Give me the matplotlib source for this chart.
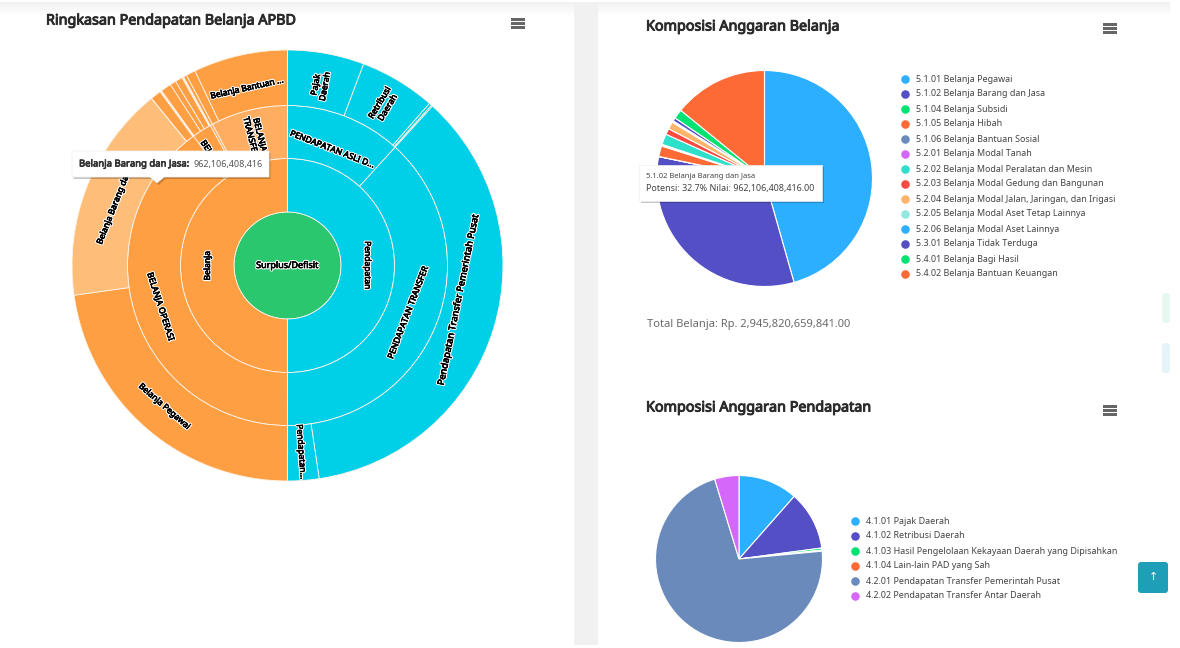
import numpy as np
import matplotlib
matplotlib.use("Agg")
import matplotlib.pyplot as plt
import matplotlib.patheffects as pe
from matplotlib.patches import FancyBboxPatch, Polygon, Rectangle

# ---------- data (Rp miliar) ----------
belanja_codes = ["5.1.01", "5.1.02", "5.1.04", "5.1.05", "5.1.06", "5.2.01", "5.2.02",
                 "5.2.03", "5.2.04", "5.2.05", "5.2.06", "5.3.01", "5.4.01", "5.4.02"]
belanja_names = ["Belanja Pegawai", "Belanja Barang dan Jasa", "Belanja Subsidi", "Belanja Hibah",
                 "Belanja Bantuan Sosial", "Belanja Modal Tanah", "Belanja Modal Peralatan dan Mesin",
                 "Belanja Modal Gedung dan Bangunan", "Belanja Modal Jalan, Jaringan, dan Irigasi",
                 "Belanja Modal Aset Tetap Lainnya", "Belanja Modal Aset Lainnya",
                 "Belanja Tidak Terduga", "Belanja Bagi Hasil", "Belanja Bantuan Keuangan"]
belanja_values = [1343.0, 962.1, 0.6, 47.1, 4.4, 2.9, 47.1, 26.5, 32.4, 4.4, 2.9, 14.7, 41.4, 416.1]
belanja_groups = ["BELANJA OPERASI", "BELANJA MODAL", "BELANJA TIDAK TERDUGA", "BELANJA TRANSFER"]
belanja_group_values = [2357.2, 116.0, 14.7, 457.5]

pendapatan_codes = ["4.1.01", "4.1.02", "4.1.03", "4.1.04", "4.2.01", "4.2.02"]
pendapatan_names = ["Pajak Daerah", "Retribusi Daerah", "Hasil Pengelolaan Kekayaan Daerah yang Dipisahkan",
                    "Lain-lain PAD yang Sah", "Pendapatan Transfer Pemerintah Pusat",
                    "Pendapatan Transfer Antar Daerah"]
pendapatan_values = [338.8, 335.8, 11.8, 5.9, 2115.1, 138.4]
pendapatan_groups = ["PENDAPATAN ASLI D...", "PENDAPATAN TRANSFER"]
pendapatan_group_values = [692.3, 2253.5]

top_names = ["Pendapatan", "Belanja"]
top_values = [2945.8, 2945.8]

PALETTE = ["#2caffe", "#544fc5", "#00e272", "#fe6a35", "#6b8abc", "#d568fb", "#2ee0ca",
           "#fa4b42", "#feb56a", "#91e8e1"]
ORANGE, ORANGE_L, ORANGE_H, CYAN, GREEN = "#ff9f43", "#ffad60", "#febd78", "#00cfe8", "#2ac76f"

W, H = 1180, 648
plt.rcParams["font.family"] = ["Noto Sans", "DejaVu Sans"]
fig = plt.figure(figsize=(W / 100, H / 100), dpi=100, facecolor="white")


def px_axes(cx, cy, half, z):
    a = fig.add_axes([(cx - half) / W, 1 - (cy + half) / H, 2 * half / W, 2 * half / H], zorder=z)
    return a


def px(v):
    return v * 0.72


def fake_bold(color, width=0.55):
    return [pe.withStroke(linewidth=width, foreground=color)]


def halo_bold(width=0.45):
    return [pe.withStroke(linewidth=2.0, foreground="white"),
            pe.withStroke(linewidth=width, foreground="black")]


# ---------- background ----------
bg = fig.add_axes([0, 0, 1, 1], zorder=0)
bg.set_xlim(0, W)
bg.set_ylim(H, 0)
bg.axis("off")
bg.add_patch(Rectangle((574, 2), 24, H - 5, fc="#f1f1f1", ec="none"))
grad = np.linspace(0, 1, 14)[:, None]
shade = np.dstack([0.945 + 0.055 * grad] * 3)
bg.imshow(shade, extent=(0, 574, 16, 2), aspect="auto", zorder=1)
bg.imshow(shade, extent=(598, 1170, 16, 2), aspect="auto", zorder=1)
bg.set_xlim(0, W)
bg.set_ylim(H, 0)
bg.add_patch(FancyBboxPatch((1162, 293), 8, 30, boxstyle="round,pad=0,rounding_size=3", fc="#e8f7ef", ec="none"))
bg.add_patch(FancyBboxPatch((1162, 343), 8, 30, boxstyle="round,pad=0,rounding_size=3", fc="#e6f4f7", ec="none"))

# ---------- sunburst ----------
R = [53.5, 107, 160, 215.5]
CX, CY = 287.5, 265.5
sun = px_axes(CX, CY, 220, 1)
wedge = dict(edgecolor="#fff4e8", linewidth=0.6)

sun.pie([1], radius=R[0], colors=[GREEN], wedgeprops=wedge)
sun.pie(top_values, radius=R[1], colors=[CYAN, ORANGE], startangle=90, counterclock=False,
        wedgeprops=dict(width=R[1] - R[0], **wedge))
ring3 = pendapatan_group_values + belanja_group_values
sun.pie(ring3, radius=R[2], colors=[CYAN] * 2 + [ORANGE, ORANGE, ORANGE_L, ORANGE_L],
        startangle=90, counterclock=False, wedgeprops=dict(width=R[2] - R[1], **wedge))
ring4 = pendapatan_values + belanja_values
ring4_colors = [CYAN] * len(pendapatan_values) + [ORANGE, ORANGE_H] + [ORANGE] * (len(belanja_values) - 2)
sun.pie(ring4, radius=R[3], colors=ring4_colors, startangle=90, counterclock=False,
        wedgeprops=dict(width=R[3] - R[2], **wedge))
sun.set_xlim(-220, 220)
sun.set_ylim(-220, 220)
sun.set_aspect("equal")
sun.axis("off")


def mids(vals):
    v = np.asarray(vals, float)
    edges = np.concatenate([[0], np.cumsum(v)]) / v.sum() * 360
    return (edges[:-1] + edges[1:]) / 2


def sun_label(theta, r, text, mode="parallel", size=8.5, dtheta=0.0):
    th = theta + dtheta
    x, y = r * np.sin(np.radians(th)), r * np.cos(np.radians(th))
    rot = -th if mode == "parallel" else 90 - th
    rot = (rot + 90) % 180 - 90
    if rot == -90 and th > 180:
        rot = 90
    sun.text(x, y, text, rotation=rot, rotation_mode="anchor", ha="center", va="center",
             fontsize=px(size), color="black", linespacing=1.05, zorder=10, path_effects=halo_bold())


m4 = mids(ring4)
m3 = mids(ring3)
m2 = mids(top_values)
r2, r3, r4 = 80, 133.5, 187
np_ = len(pendapatan_values)
sun.text(0, 0, "Surplus/Defisit", ha="center", va="center", fontsize=px(9), color="black",
         path_effects=halo_bold(), zorder=10)
sun_label(m2[0], r2, top_names[0])
sun_label(m2[1], r2, top_names[1])
sun_label(m3[0], r3 - 9, pendapatan_groups[0])
sun_label(m3[1], r3 - 4, pendapatan_groups[1])
sun_label(m3[2], r3, belanja_groups[0])
sun_label(m3[3], r3, "BELANJA", mode="radial", dtheta=-2)
sun_label(m3[5], r3, "BELANJA\nTRANSFER", mode="radial")
sun_label(m4[0], r4 - 4, "Pajak\nDaerah", mode="radial")
sun_label(m4[1], r4, "Retribusi\nDaerah", mode="radial")
sun_label(m4[4], 174.5, pendapatan_names[4], size=9.4, dtheta=-5.4)
sun_label(m4[5], r4, "Pendapatan...", mode="radial")
sun_label(m4[np_], r4, belanja_names[0])
sun_label(m4[np_ + 1], r4 - 4, belanja_names[1])
sun_label(m4[-1], r4 - 5, "Belanja Bantuan ...")

# ---------- pie charts ----------
pie1 = px_axes(764.5, 178.5, 112, 1)
pie1.pie(belanja_values, radius=108, startangle=90, counterclock=False,
         colors=[PALETTE[i % 10] for i in range(len(belanja_values))],
         wedgeprops=dict(edgecolor="white", linewidth=0.8))
pie1.set_xlim(-112, 112)
pie1.set_ylim(-112, 112)
pie1.axis("off")

pie2 = px_axes(739, 559, 87, 1)
pie2.pie(pendapatan_values, radius=83.5, startangle=90, counterclock=False,
         colors=[PALETTE[i % 10] for i in range(len(pendapatan_values))],
         wedgeprops=dict(edgecolor="white", linewidth=0.8))
pie2.set_xlim(-87, 87)
pie2.set_ylim(-87, 87)
pie2.axis("off")

# ---------- overlay ----------
ov = fig.add_axes([0, 0, 1, 1], zorder=3)
ov.set_xlim(0, W)
ov.set_ylim(H, 0)
ov.axis("off")
ov.patch.set_alpha(0)

TITLE = "#2b2b2b"
for tx, ty, t in [(46, 21, "Ringkasan Pendapatan Belanja APBD"),
                  (646, 27, "Komposisi Anggaran Belanja"),
                  (646, 408, "Komposisi Anggaran Pendapatan")]:
    ov.text(tx, ty, t, fontsize=px(14.35), color=TITLE, va="center", path_effects=fake_bold(TITLE, 0.7))
ov.text(647, 324, "Total Belanja: Rp. 2,945,820,659,841.00", fontsize=px(11.1), color="#6a6a6a", va="center")

for bx, by in [(511, 18), (1103, 23), (1103, 405)]:
    for k in range(3):
        ov.add_patch(Rectangle((bx, by + k * 4.2), 14, 2.6, fc="#666666", ec="none"))

for i, (c, n) in enumerate(zip(belanja_codes, belanja_names)):
    y = 78.5 + i * 15
    ov.scatter([905], [y], s=38, color=PALETTE[i % 10], linewidths=0)
    ov.text(916, y + 0.5, f"{c} {n}", fontsize=px(8.95), color="#444444", va="center")
for i, (c, n) in enumerate(zip(pendapatan_codes, pendapatan_names)):
    y = 520.5 + i * 15
    ov.scatter([855], [y], s=38, color=PALETTE[i % 10], linewidths=0)
    ov.text(866, y + 0.5, f"{c} {n}", fontsize=px(8.95), color="#444444", va="center")

# scroll-to-top button
ov.add_patch(FancyBboxPatch((1138, 562), 30, 31, boxstyle="round,pad=0,rounding_size=3", fc="#1f9fb7", ec="none"))
ov.text(1153, 577.5, "\u2191", fontsize=px(11), color="white", ha="center", va="center", family="DejaVu Sans")


def tooltip(x0, y0, x1, y1, notch=None):
    pts = [(x0, y0), (x1, y0), (x1, y1)]
    if notch:
        pts += [(notch + 7, y1), (notch, y1 + 6), (notch - 7, y1)]
    pts += [(x0, y1)]
    ov.add_patch(Polygon([(a + 1.5, b + 2) for a, b in pts], fc="#000000", alpha=0.22, ec="none", zorder=20))
    ov.add_patch(Polygon(pts, fc="white", ec="#eeeeee", lw=0.5, zorder=21))


tooltip(72, 151, 269, 177, notch=157)
ov.text(79, 164, "Belanja Barang dan Jasa:", fontsize=px(9.5), color="#333333", va="center", zorder=22,
        path_effects=fake_bold("#333333", 0.5))
ov.text(193, 164, "962,106,408,416", fontsize=px(9.0), color="#555555", va="center", zorder=22)
tooltip(639, 165, 822, 201)
ov.text(646, 177, "5.1.02 Belanja Barang dan Jasa", fontsize=px(7.6), color="#444444", va="center", zorder=22)
ov.text(646, 188, "Potensi: 32.7% Nilai: 962,106,408,416.00", fontsize=px(8.95), color="#444444", va="center", zorder=22)

fig.savefig("out.png", dpi=100, facecolor="white")
